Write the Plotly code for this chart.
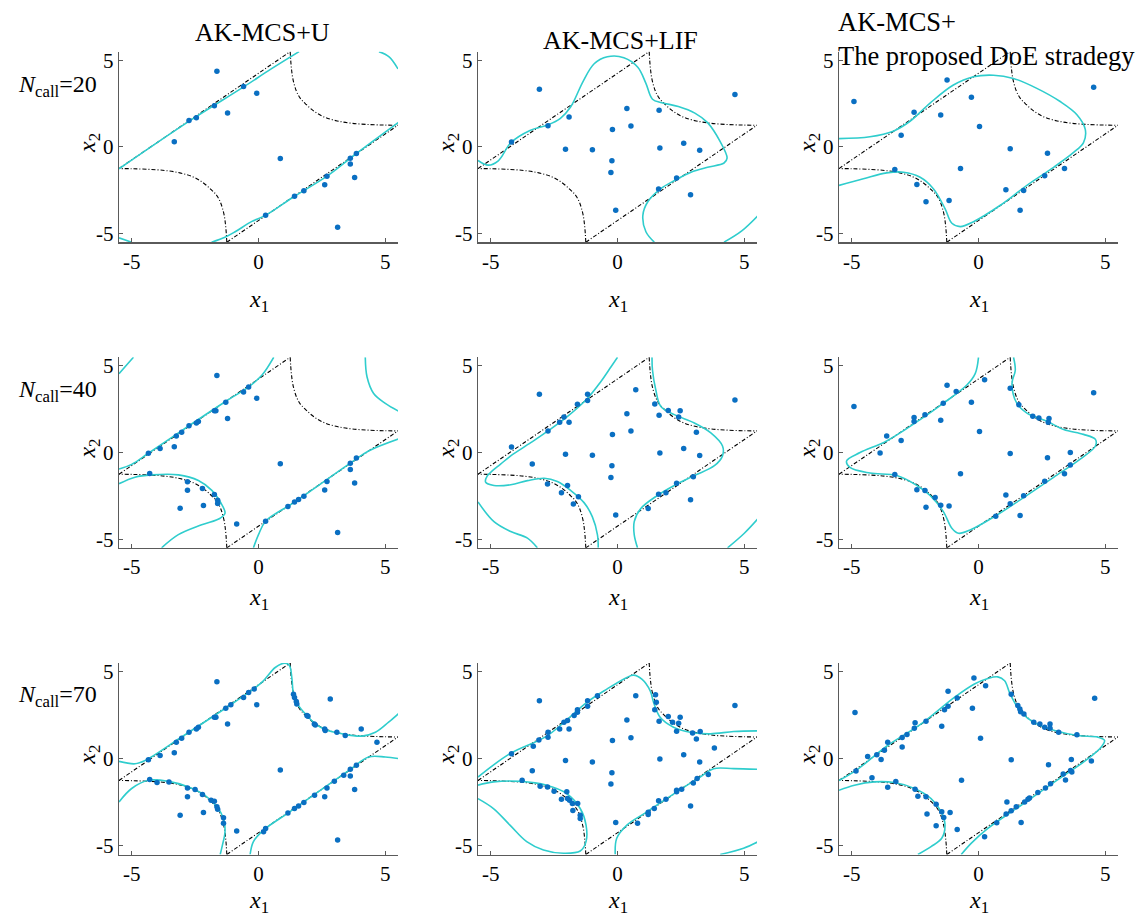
import plotly.graph_objects as go

# ---------------- true limit state (identical in every panel) ----------------
lsf_a_x = [-5.5, 1.25]
lsf_a_y = [-1.25, 5.5]
lsf_b_x = [-1.25, 5.5]
lsf_b_y = [-5.5, 1.25]
lsf_tr_x = [1.25, 1.27, 1.30, 1.36, 1.50, 1.65, 1.88, 2.20, 2.60, 3.10, 3.70, 4.40, 5.00, 5.50]
lsf_tr_y = [5.50, 5.00, 4.50, 3.90, 3.20, 2.80, 2.45, 2.05, 1.72, 1.50, 1.36, 1.29, 1.26, 1.25]
lsf_bl_x = [-1.25, -1.27, -1.30, -1.36, -1.50, -1.65, -1.88, -2.20, -2.60, -3.10, -3.70, -4.40, -5.00, -5.50]
lsf_bl_y = [-5.50, -5.00, -4.50, -3.90, -3.20, -2.80, -2.45, -2.05, -1.72, -1.50, -1.36, -1.29, -1.26, -1.25]

# ---------------- column / row labels ----------------
col_titles = ["AK-MCS+U", "AK-MCS+LIF", "AK-MCS+<br>The proposed DoE stradegy"]
row_labels = ["20", "40", "70"]
tick_vals = [-5, 0, 5]
tick_text = ["-5", "0", "5"]

# ---------------- AK-MCS+U ----------------
U20_points = [(-1.64, 4.37), (-0.59, 3.48), (-0.07, 3.10), (-1.74, 2.38), (-1.22, 1.96), (-2.74, 1.52),
              (-2.45, 1.69), (-3.32, 0.30), (0.86, -0.67), (3.86, -0.38), (3.62, -0.65), (3.62, -0.99),
              (3.79, -1.77), (2.70, -1.69), (2.61, -2.19), (1.79, -2.53), (1.42, -2.85), (0.28, -3.95),
              (3.12, -4.64)]
U20_curves = [
    [(-5.5, -1.26), (-2.7, 1.52), (-0.6, 3.45), (0.5, 4.5), (1.6, 5.5)],
    [(-1.85, -5.5), (-1.3, -5.2), (-0.92, -4.9), (-0.26, -4.3), (0.28, -3.95), (1.42, -2.85),
     (2.7, -1.69), (3.86, -0.38), (5.55, 1.45)],
    [(4.75, 5.5), (5.15, 5.2), (5.5, 4.5)],
    [(-5.5, -5.25), (-5.0, -5.5)],
]

U40_points = [(-1.64, 4.45), (-0.39, 3.79), (-0.59, 3.50), (-0.07, 3.14), (-1.29, 2.90), (-1.74, 2.41),
              (-1.68, 2.41), (-1.22, 1.97), (-2.37, 1.80), (-2.45, 1.70), (-2.74, 1.55), (-3.03, 1.17),
              (-3.24, 0.95), (-3.32, 0.34), (-3.88, 0.23), (-4.34, -0.04), (-4.29, -1.21), (-2.80, -1.69),
              (-2.80, -2.18), (-2.21, -2.08), (-1.74, -2.42), (-1.61, -2.75), (-1.61, -2.94), (-2.17, -3.05),
              (-3.09, -3.22), (-0.86, -4.13), (0.86, -0.64), (0.28, -3.96), (1.16, -3.11), (1.42, -2.86),
              (1.58, -2.71), (1.79, -2.52), (2.61, -2.16), (2.70, -1.67), (3.62, -0.61), (3.86, -0.32),
              (3.62, -0.97), (3.79, -1.76), (3.12, -4.61)]
U40_curves = [
    [(-5.5, -0.95), (-5.0, -0.68), (-4.34, -0.04), (-2.74, 1.55), (-1.3, 2.95), (-0.39, 3.79),
     (0.13, 4.46), (0.6, 5.5)],
    [(-5.5, 4.55), (-5.2, 5.05), (-4.93, 5.5)],
    [(4.21, 5.5), (4.28, 4.36), (4.54, 3.41), (5.0, 2.84), (5.55, 2.37)],
    [(-5.5, -1.80), (-4.87, -1.42), (-4.21, -1.29), (-3.16, -1.29), (-2.37, -1.61), (-1.84, -2.18),
     (-1.51, -2.84), (-1.32, -3.5), (-1.51, -3.79), (-2.24, -4.17), (-3.16, -4.74), (-3.82, -5.5)],
    [(-0.2, -5.5), (0.0, -4.74), (0.28, -3.96), (1.42, -2.86), (3.62, -0.61), (4.34, 0.09), (5.55, 0.8)],
]

U70_points = [(-1.64, 4.42), (-0.17, 4.00), (-0.39, 3.81), (-0.59, 3.52), (-0.07, 3.10), (-1.09, 3.10),
              (-1.29, 2.90), (-1.74, 2.38), (-1.68, 2.38), (-1.22, 2.00), (-2.37, 1.81), (-2.45, 1.71),
              (-2.74, 1.52), (-3.03, 1.18), (-3.24, 0.95), (-3.32, 0.34), (-3.88, 0.19), (-4.34, -0.06),
              (-4.29, -1.20), (-4.00, -1.37), (-3.53, -1.33), (-2.80, -1.68), (-2.50, -1.77), (-2.80, -2.19),
              (-2.21, -2.06), (-1.87, -2.38), (-1.74, -2.44), (-1.64, -2.76), (-1.61, -2.90), (-2.17, -3.09),
              (-3.09, -3.24), (-1.38, -3.39), (-1.38, -3.71), (-0.86, -4.15), (0.86, -0.65), (0.28, -4.00),
              (0.20, -4.19), (1.16, -3.12), (1.42, -2.86), (1.58, -2.72), (1.79, -2.51), (2.21, -2.10),
              (2.61, -2.19), (2.70, -1.68), (2.99, -1.30), (3.36, -0.95), (3.62, -0.99), (3.62, -0.61),
              (3.86, -0.38), (3.79, -1.77), (3.12, -4.67), (1.38, 3.71), (1.42, 3.52), (1.49, 3.28),
              (1.51, 3.14), (1.91, 2.48), (1.95, 2.44), (2.20, 2.00), (2.24, 1.94), (2.61, 1.71),
              (2.63, 1.62), (3.09, 1.52), (3.42, 1.33), (2.83, 3.43), (4.05, 1.71), (4.67, 0.95)]
U70_curves = [
    [(-5.5, -0.15), (-4.87, -0.29), (-4.47, -0.1), (-3.0, 1.28), (-1.0, 3.2), (0.13, 4.38), (0.66, 5.24),
     (1.05, 5.49), (1.22, 5.35), (1.32, 4.57), (1.38, 3.71), (1.58, 3.05), (1.91, 2.48), (2.24, 2.0),
     (2.63, 1.68), (3.29, 1.43), (4.08, 1.30), (4.61, 1.52), (5.13, 2.1), (5.55, 2.63)],
    [(-5.5, -2.48), (-5.0, -1.71), (-4.34, -1.24), (-3.55, -1.30), (-2.76, -1.62), (-2.11, -2.10),
     (-1.64, -2.76), (-1.38, -3.43), (-1.32, -4.19), (-1.42, -4.95), (-1.51, -5.5)],
    [(-0.33, -5.5), (-0.2, -4.76), (0.2, -4.1), (1.16, -3.12), (3.62, -0.61), (4.34, 0.1), (5.0, 0.1),
     (5.55, 0.0)],
]

# ---------------- AK-MCS+LIF ----------------
LIF20_points = [(-3.08, 3.33), (-4.18, 0.29), (-2.74, 1.22), (-1.91, 1.73), (-2.05, -0.13), (-0.99, -0.17),
                (-0.20, 1.01), (0.37, 2.21), (0.53, 1.20), (-0.22, -0.80), (-0.26, -1.48), (-0.07, -3.65),
                (1.64, 2.11), (1.67, -0.06), (2.61, 0.21), (3.24, -0.19), (2.33, -1.79), (1.62, -2.43),
                (2.88, -2.76), (4.63, 3.02)]
LIF20_curves = [
    [(-5.5, -0.78), (-5.1, -1.05), (-4.7, -0.8), (-4.2, 0.25), (-3.45, 0.95), (-2.75, 1.27), (-2.25, 1.65),
     (-1.85, 2.3), (-1.35, 3.8), (-0.92, 4.8), (-0.4, 5.2), (0.25, 5.15), (0.8, 4.6), (1.12, 3.67),
     (1.38, 2.75), (1.75, 2.55), (2.4, 2.33), (3.05, 1.95), (3.55, 1.4), (4.05, 0.3), (4.32, -0.65),
     (4.2, -0.93), (3.55, -1.18), (2.9, -1.46), (2.25, -1.94), (1.7, -2.42), (1.2, -3.15), (1.0, -3.95),
     (1.12, -4.9), (1.45, -5.5)],
    [(4.2, -5.5), (4.9, -4.85), (5.55, -3.95)],
]

LIF40_points = [(-3.08, 3.36), (-4.18, 0.32), (-3.36, -0.66), (-2.74, 1.25), (-2.28, 1.75), (-2.11, 2.05),
                (-1.91, 1.75), (-1.58, 2.79), (-1.18, 3.00), (-1.18, 3.36), (-2.05, -0.10), (-0.99, -0.15),
                (-0.20, 1.05), (0.37, 2.24), (0.53, 1.24), (0.72, 3.63), (-0.22, -0.76), (-0.26, -1.44),
                (-0.07, -3.61), (1.47, 2.81), (1.64, 2.15), (2.00, 2.43), (2.47, 2.41), (2.41, 2.05),
                (3.11, 1.18), (1.67, -0.02), (2.61, 0.23), (3.24, -0.17), (2.99, -1.39), (2.33, -1.77),
                (1.91, -2.32), (1.62, -2.41), (2.88, -2.72), (1.21, -3.23), (4.63, 3.04), (-2.76, -1.81),
                (-1.97, -1.90), (-2.21, -2.32), (-1.54, -2.55), (-1.74, -2.97)]
LIF40_curves = [
    [(0.0, 5.5), (-0.26, 4.94), (-0.66, 4.09), (-1.18, 3.14), (-1.97, 2.09), (-2.74, 1.25), (-3.42, 0.57),
     (-4.21, -0.19), (-4.61, -0.67), (-5.0, -1.14), (-5.13, -1.33), (-5.2, -1.71), (-4.87, -1.9),
     (-4.21, -1.86), (-3.55, -1.62), (-2.89, -1.48), (-2.37, -1.67), (-1.84, -2.19), (-1.32, -2.89),
     (-0.99, -3.71), (-0.79, -4.75), (-0.76, -5.5)],
    [(1.36, 5.5), (1.38, 4.75), (1.51, 3.61), (1.71, 2.66), (2.24, 2.19), (3.03, 1.71), (3.68, 1.14),
     (4.14, 0.38), (4.14, -0.19), (3.82, -0.76), (3.03, -1.33), (2.24, -1.9), (1.58, -2.47), (0.92, -3.23),
     (0.66, -3.99), (0.66, -4.75), (0.79, -5.5)],
    [(-5.5, -2.85), (-4.87, -3.99), (-4.21, -4.56), (-3.55, -4.94), (-3.16, -5.5)],
    [(4.34, -5.5), (5.0, -4.66), (5.55, -3.8)],
]

LIF70_points = [(-3.08, 3.33), (-4.18, 0.29), (-3.36, -0.69), (-3.76, -1.24), (-3.32, 0.72), (-3.10, 1.08),
                (-2.74, 1.52), (-2.74, 1.24), (-2.28, 1.71), (-2.11, 2.10), (-1.97, 2.19), (-1.91, 1.71),
                (-1.71, 2.48), (-1.58, 2.67), (-1.58, 2.82), (-1.18, 3.33), (-1.18, 3.01), (-0.79, 3.62),
                (-2.05, -0.10), (-0.99, -0.19), (-0.20, 1.05), (0.37, 2.23), (0.53, 1.20), (0.72, 3.62),
                (-0.22, -0.80), (-0.26, -1.45), (-0.07, -3.66), (0.79, -3.71), (1.21, -3.20), (1.21, -3.08),
                (1.45, -2.86), (1.62, -2.42), (1.91, -2.32), (2.33, -1.81), (2.33, -1.90), (2.53, -1.75),
                (2.88, -2.72), (2.99, -1.39), (3.14, -1.14), (3.58, -0.91), (3.24, -0.19), (2.61, 0.23),
                (1.67, -0.02), (3.82, 0.61), (3.11, 1.14), (3.26, 1.56), (2.96, 1.48), (2.41, 2.04),
                (2.47, 2.38), (2.17, 2.10), (2.00, 2.42), (2.33, 1.58), (1.64, 2.15), (1.47, 2.82),
                (1.53, 3.24), (1.50, 3.68), (4.63, 3.05), (-2.76, -1.62), (-3.05, -1.58), (-2.50, -1.87),
                (-2.00, -1.90), (-2.21, -2.32), (-1.97, -2.29), (-1.89, -2.38), (-1.78, -2.57),
                (-1.57, -2.57), (-1.76, -2.97), (-1.47, -3.24), (-1.47, -3.43)]
LIF70_curves = [
    [(-5.5, -1.05), (-4.24, 0.29), (-2.76, 1.33), (-1.21, 3.24), (-0.42, 4.0), (0.37, 4.67), (0.63, 4.8),
     (0.96, 4.57), (1.29, 3.9), (1.42, 3.24), (1.68, 2.38), (2.21, 1.81), (2.87, 1.52), (3.66, 1.43),
     (4.58, 1.56), (5.55, 1.60)],
    [(-0.09, -5.5), (-0.03, -4.57), (0.37, -3.81), (1.16, -3.05), (2.34, -1.90), (3.26, -1.05),
     (3.79, -0.57), (4.58, -0.57), (5.55, -0.61)],
    [(-5.5, -1.52), (-4.89, -1.33), (-3.84, -1.30), (-2.79, -1.52), (-2.0, -2.0), (-1.47, -2.86),
     (-1.24, -3.81), (-1.24, -4.76), (-1.47, -5.3), (-2.13, -5.43), (-2.92, -5.24), (-3.58, -4.76),
     (-4.24, -3.81), (-4.89, -2.86), (-5.5, -2.29)],
    [(4.05, -5.5), (4.97, -5.14), (5.55, -4.76)],
]

# ---------------- AK-MCS + proposed DoE ----------------
P20_points = [(-4.91, 2.62), (-1.24, 3.86), (-0.28, 2.87), (-2.54, 2.00), (-1.49, 1.84), (0.04, 1.18),
              (-3.05, 0.67), (1.25, -0.10), (2.72, -0.36), (3.39, -1.24), (2.61, -1.67), (1.78, -2.51),
              (1.08, -2.47), (1.64, -3.65), (-0.71, -1.24), (-3.30, -1.31), (-2.43, -2.17), (-2.07, -3.17),
              (-1.16, -3.10), (4.54, 3.44)]
P20_curves = [
    [(-5.5, 0.48), (-4.28, 0.59), (-3.36, 0.91), (-2.7, 1.48), (-1.91, 2.53), (-0.99, 3.57), (-0.2, 4.05),
     (0.59, 4.14), (1.38, 3.95), (2.3, 3.38), (3.22, 2.62), (3.88, 1.86), (4.21, 1.01), (4.14, 0.25),
     (3.75, -0.32), (2.96, -1.18), (1.91, -2.22), (0.86, -3.37), (-0.2, -4.32), (-0.72, -4.6),
     (-1.05, -4.41), (-1.32, -3.56), (-1.78, -2.41), (-2.3, -1.75), (-2.96, -1.46), (-3.62, -1.50),
     (-4.54, -1.84), (-5.5, -2.22)],
]

P40_points = [(-4.91, 2.66), (-1.24, 3.88), (-0.88, 3.52), (0.24, 4.20), (-0.28, 2.91), (-1.39, 2.85),
              (-2.54, 2.03), (-2.54, 1.79), (-2.11, 2.19), (-1.49, 1.86), (0.04, 1.22), (-3.62, 0.95),
              (-3.05, 0.70), (-3.88, -0.02), (1.25, -0.06), (1.25, 3.71), (1.59, 2.76), (2.14, 2.09),
              (2.38, 1.99), (2.78, 1.96), (2.75, 1.75), (2.72, -0.30), (3.62, 0.00), (3.62, -0.72),
              (3.39, -1.22), (2.61, -1.65), (1.78, -2.49), (1.08, -2.45), (1.25, -2.95), (0.68, -3.67),
              (1.64, -3.63), (-0.71, -1.22), (-3.30, -1.27), (-2.43, -2.15), (-2.11, -2.19), (-1.71, -2.60),
              (-2.07, -3.16), (-1.49, -3.04), (-1.16, -3.08), (4.54, 3.46)]
P40_curves = [
    [(0.0, 5.5), (-0.13, 4.56), (-0.46, 3.9), (-1.38, 2.85), (-2.3, 1.9), (-3.62, 0.67), (-4.67, 0.0),
     (-5.2, -0.48), (-5.07, -0.86), (-4.28, -1.18), (-3.22, -1.33), (-2.43, -1.9), (-1.91, -2.47),
     (-1.38, -3.42), (-1.05, -4.37), (-0.79, -4.66), (-0.33, -4.47), (0.72, -3.61), (1.91, -2.47),
     (2.96, -1.43), (4.01, -0.38), (4.61, 0.38), (4.61, 0.76), (4.14, 1.05), (3.36, 1.33), (2.7, 1.81),
     (1.91, 2.28), (1.51, 2.85), (1.32, 3.99), (1.45, 4.75), (1.38, 5.5)],
]

P70_points = [(-4.87, 2.65), (-4.83, -0.70), (-4.37, 0.13), (-4.01, 0.23), (-3.84, -0.04), (-3.71, 0.48),
              (-3.58, 0.95), (-3.01, 0.67), (-3.01, 1.22), (-2.82, 1.39), (-2.53, 1.75), (-2.50, 2.06),
              (-2.07, 2.15), (-1.45, 1.87), (-1.34, 2.82), (-1.20, 3.01), (-1.20, 3.87), (-0.84, 3.49),
              (-0.18, 4.63), (0.28, 4.19), (-0.24, 2.90), (0.08, 1.18), (1.29, -0.06), (1.29, 3.71),
              (1.55, 3.05), (1.63, 2.86), (1.66, 2.70), (1.79, 2.57), (2.18, 2.10), (2.42, 2.00),
              (2.61, 1.81), (2.82, 2.00), (2.82, 1.75), (3.16, 1.52), (3.88, 1.37), (2.76, -0.34),
              (3.66, -0.04), (4.45, -0.13), (3.63, -0.67), (3.68, -0.76), (3.34, -0.88), (3.43, -1.22),
              (2.84, -1.43), (2.64, -1.68), (2.34, -1.94), (2.01, -2.25), (1.95, -2.32), (1.82, -2.48),
              (1.49, -2.76), (1.29, -2.99), (1.12, -2.48), (1.09, -3.18), (0.72, -3.68), (1.68, -3.66),
              (0.24, -4.48), (-0.67, -1.24), (-3.26, -1.31), (-4.20, -1.09), (-3.58, -1.64), (-2.50, -1.75),
              (-2.39, -2.15), (-2.07, -2.19), (-1.67, -2.61), (-2.03, -3.18), (-1.45, -3.05), (-1.37, -3.37),
              (-1.12, -3.09), (-1.67, -3.85), (-0.84, -4.06), (4.58, 3.47)]
P70_curves = [
    [(-5.5, -1.25), (-4.83, -0.67), (-3.58, 0.76), (-2.26, 2.0), (-0.95, 3.52), (-0.16, 4.29), (0.37, 4.61),
     (0.76, 4.7), (1.03, 4.48), (1.22, 3.81), (1.42, 3.24), (1.68, 2.67), (2.21, 2.06), (3.0, 1.62),
     (3.92, 1.33), (4.71, 1.24), (4.97, 1.05), (4.84, 0.67), (4.32, 0.0), (3.0, -1.33), (1.68, -2.67),
     (0.37, -4.0), (-0.29, -4.86), (-0.68, -5.5)],
    [(-5.5, -1.81), (-4.89, -1.52), (-4.11, -1.33), (-3.32, -1.37), (-2.53, -1.71), (-1.87, -2.29),
     (-1.47, -3.05), (-1.32, -3.81), (-1.45, -4.57), (-1.87, -5.05), (-2.39, -5.5)],
]

panels = [
    [(U20_points, U20_curves), (LIF20_points, LIF20_curves), (P20_points, P20_curves)],
    [(U40_points, U40_curves), (LIF40_points, LIF40_curves), (P40_points, P40_curves)],
    [(U70_points, U70_curves), (LIF70_points, LIF70_curves), (P70_points, P70_curves)],
]

# ---------------- layout geometry (pixels of the 1148x924 page) ----------------
W, H = 1148, 924
col_px = [(119, 398), (478, 757), (839, 1118)]
row_px = [(49, 241), (357, 549), (665, 858)]

CYAN = "#2fcdcd"
BLUE = "#0a6fc2"
AXC = "#5a5a5a"
FONT = "Liberation Serif, Times New Roman, serif"

fig = go.Figure()
layout = dict(
    width=W, height=H, margin=dict(l=0, r=0, t=0, b=0),
    paper_bgcolor="white", plot_bgcolor="white", showlegend=False,
    font=dict(family=FONT, color="black"),
)

annotations = []
k = 0
for r in range(3):
    for c in range(3):
        k += 1
        xa = "x" if k == 1 else f"x{k}"
        ya = "y" if k == 1 else f"y{k}"
        x0, x1 = col_px[c]
        y0, y1 = row_px[r]
        axis_common = dict(
            range=[-5.5, 5.5], showgrid=False, zeroline=False, showline=True, linecolor=AXC,
            linewidth=1.4, ticks="inside", ticklen=4, tickcolor=AXC, tickwidth=1,
            tickvals=tick_vals, ticktext=tick_text, tickfont=dict(family=FONT, size=21, color="black"),
            fixedrange=True,
        )
        layout["xaxis" if k == 1 else f"xaxis{k}"] = dict(
            axis_common, domain=[x0 / W, x1 / W], anchor=ya)
        layout["yaxis" if k == 1 else f"yaxis{k}"] = dict(
            axis_common, domain=[1 - y1 / H, 1 - y0 / H], anchor=xa)

        pts, curves = panels[r][c]
        # true limit state
        for lx, ly, shp in [(lsf_a_x, lsf_a_y, "linear"), (lsf_tr_x, lsf_tr_y, "spline"),
                            (lsf_b_x, lsf_b_y, "linear"), (lsf_bl_x, lsf_bl_y, "spline")]:
            fig.add_trace(go.Scatter(x=lx, y=ly, mode="lines", xaxis=xa, yaxis=ya,
                                     line=dict(color="black", width=1.1, dash="4px,2px,1px,2px", shape=shp),
                                     hoverinfo="skip"))
        # surrogate limit state
        for cv in curves:
            fig.add_trace(go.Scatter(x=[p[0] for p in cv], y=[p[1] for p in cv], mode="lines",
                                     xaxis=xa, yaxis=ya,
                                     line=dict(color=CYAN, width=1.6, shape="spline", smoothing=1.0),
                                     hoverinfo="skip"))
        # DoE samples
        fig.add_trace(go.Scatter(x=[p[0] for p in pts], y=[p[1] for p in pts], mode="markers",
                                 xaxis=xa, yaxis=ya, marker=dict(color=BLUE, size=5.5), cliponaxis=True))

        # axis titles
        xc = (x0 + x1) / 2 / W
        ty = [300, 601, 906][r]
        annotations.append(dict(text="<i>x</i><sub>1</sub>", x=xc, y=1 - ty / H, xref="paper", yref="paper",
                                showarrow=False, font=dict(family=FONT, size=24), xanchor="center",
                                yanchor="middle"))
        yc = 1 - ((y0 + y1) / 2 - 4) / H
        annotations.append(dict(text="<i>x</i><sub>2</sub>", x=(x0 - 30) / W, y=yc, xref="paper",
                                yref="paper", showarrow=False, textangle=-90,
                                font=dict(family=FONT, size=24), xanchor="center", yanchor="middle"))

# row labels
for r in range(3):
    annotations.append(dict(text=f"<i>N</i><sub>call</sub>={row_labels[r]}", x=16 / W,
                            y=1 - [84, 391, 698][r] / H, xref="paper", yref="paper", showarrow=False,
                            xanchor="left", yanchor="middle", font=dict(family=FONT, size=24)))

# column titles
annotations.append(dict(text=col_titles[0], x=262 / W, y=1 - 30 / H, xref="paper", yref="paper",
                        showarrow=False, xanchor="center", yanchor="middle", font=dict(family=FONT, size=26)))
annotations.append(dict(text=col_titles[1], x=620 / W, y=1 - 38 / H, xref="paper", yref="paper",
                        showarrow=False, xanchor="center", yanchor="middle", font=dict(family=FONT, size=26)))
annotations.append(dict(text=col_titles[2], x=836 / W, y=1 - 36 / H, xref="paper", yref="paper",
                        showarrow=False, xanchor="left", yanchor="middle", align="left",
                        font=dict(family=FONT, size=26.5)))

layout["annotations"] = annotations
fig.update_layout(**layout)
fig.write_html("out.html", config={"displayModeBar": False, "staticPlot": True},
               post_script="document.body.style.margin='0px';")
